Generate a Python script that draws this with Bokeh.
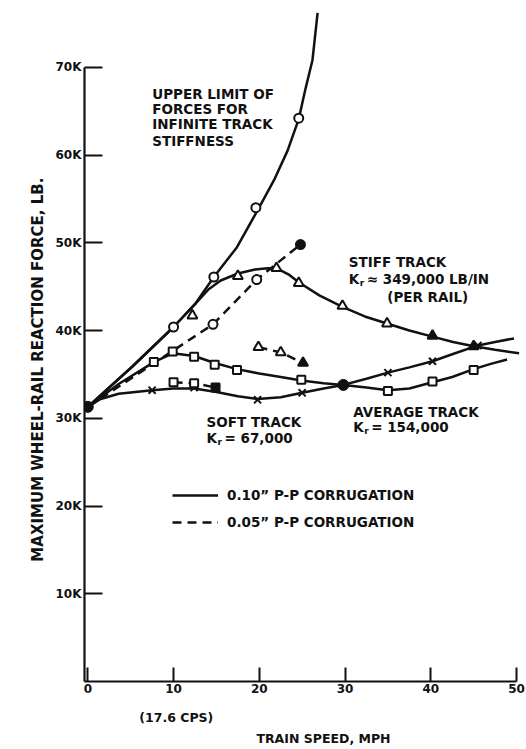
import math
from bokeh.plotting import figure
from bokeh.models import (Range1d, FixedTicker, Label, Legend, LegendItem, LinearAxis,
                          CustomJSTickFormatter)
from bokeh.embed import file_html
from bokeh.resources import INLINE

# ---- data (train speed in MPH, force in thousands of lb) ----
upper_x = [0, 5.2, 10, 12.5, 14.7, 17.4, 19.8, 21.7, 23.3, 24.6, 25.4, 26.2, 26.8]
upper_y = [31.3, 35.9, 40.4, 43.0, 46.1, 49.5, 53.7, 57.1, 60.5, 64.1, 67.6, 70.8, 76.2]
upper_mx = [10, 14.7, 19.6, 24.6]
upper_my = [40.4, 46.1, 54.0, 64.2]

stiff_x = [0, 5.2, 10, 12.5, 14.1, 15.5, 17.5, 19.5, 21.0, 22.2, 23.4, 24.6, 27, 29.7, 32.3,
           34.9, 37.5, 40.2, 42.6, 45.0, 47.5, 50.3]
stiff_y = [31.3, 35.9, 40.4, 43.0, 44.7, 45.7, 46.5, 46.95, 47.1, 47.0, 46.4, 45.5, 44.0, 42.7,
           41.6, 40.8, 40.0, 39.3, 38.7, 38.2, 37.8, 37.4]
stiff_mx = [12.2, 17.5, 22.0, 24.6, 29.7, 34.9]
stiff_my = [41.7, 46.2, 47.1, 45.4, 42.8, 40.8]
stiff_fx = [40.2, 45.0]
stiff_fy = [39.4, 38.2]

avg_x = [0, 3.6, 7.7, 9.9, 12.4, 14.8, 17.4, 20, 22.5, 24.9, 27.5, 29.8, 32.5, 35.0,
         37.5, 40.2, 42.5, 45.0, 47, 48.9]
avg_y = [31.3, 33.9, 36.4, 37.4, 37.1, 36.3, 35.6, 35.1, 34.7, 34.3, 34.0, 33.8, 33.5,
         33.2, 33.4, 34.1, 34.7, 35.6, 36.2, 36.7]
avg_mx = [7.7, 9.9, 12.4, 14.8, 17.4, 24.9, 35.0, 40.2, 45.0]
avg_my = [36.4, 37.6, 37.0, 36.1, 35.5, 34.4, 33.1, 34.2, 35.5]

soft_x = [0, 1.5, 3.6, 7.5, 10, 12.4, 15, 17.5, 19.8, 22.5, 25.0, 27.5, 29.8, 32.5,
          35.0, 37.5, 40.2, 42.5, 45.5, 47.5, 49.7]
soft_y = [31.3, 32.2, 32.8, 33.2, 33.4, 33.4, 33.0, 32.5, 32.2, 32.4, 32.9, 33.4, 33.8,
          34.5, 35.2, 35.8, 36.5, 37.3, 38.3, 38.7, 39.1]
soft_mx = [7.5, 12.4, 19.8, 25.0, 35.0, 40.2, 45.5]
soft_my = [33.2, 33.5, 32.1, 32.9, 35.2, 36.5, 38.3]

common_x = [0, 29.8]
common_y = [31.3, 33.8]

# 0.05" corrugation (dashed)
d_upper_x = [0, 14.6, 19.7, 24.8]
d_upper_y = [31.3, 40.7, 45.8, 49.8]
d_stiff_x = [19.9, 22.5, 25.1]
d_stiff_y = [38.1, 37.5, 36.3]
d_avg_x = [10.0, 12.4, 14.9]
d_avg_y = [34.1, 34.0, 33.5]

x_ticks = [0, 10, 20, 30, 40, 50]
y_ticks = [10, 20, 30, 40, 50, 60, 70]
y_tick_labels = ["10K", "20K", "30K", "40K", "50K", "60K", "70K"]

x_title = "TRAIN SPEED, MPH"
x_subtitle = "(17.6 CPS)"
y_title = "MAXIMUM WHEEL-RAIL REACTION FORCE, LB."


def lb(vals):
    return [v * 1000 for v in vals]


FONT = "DejaVu Sans"
INK = "#111111"

p = figure(width=526, height=749, output_backend="svg", toolbar_location=None,
           title=None,
           x_range=Range1d(-0.385, 50.93), y_range=Range1d(0, 76470),
           min_border_left=84, min_border_right=2, min_border_top=10,
           min_border_bottom=68)
p.outline_line_color = None
p.grid.visible = False
p.background_fill_color = "white"
p.border_fill_color = "white"

LW = 2.5
solid = dict(line_color=INK, line_width=LW)
dashed = dict(line_color=INK, line_width=LW, line_dash="9 6")

r_upper = p.line(upper_x, lb(upper_y), **solid)
p.line(stiff_x, lb(stiff_y), **solid)
p.line(avg_x, lb(avg_y), **solid)
p.line(soft_x, lb(soft_y), **solid)
r_dash = p.line(d_upper_x, lb(d_upper_y), **dashed)
p.line(d_stiff_x, lb(d_stiff_y), **dashed)
p.line(d_avg_x, lb(d_avg_y), **dashed)

mk = dict(line_color=INK, line_width=2, fill_color="white")
p.scatter(upper_mx, lb(upper_my), marker="circle", size=9, **mk)
p.scatter(stiff_mx, lb(stiff_my), marker="triangle", size=10, **mk)
p.scatter(stiff_fx, lb(stiff_fy), marker="triangle", size=10, line_color=INK,
          line_width=2, fill_color=INK)
p.scatter(avg_mx, lb(avg_my), marker="square", size=8, **mk)
p.scatter(soft_mx, lb(soft_my), marker="x", size=10, line_color=INK, line_width=2)
p.scatter(common_x, lb(common_y), marker="circle", size=11, line_color=INK,
          fill_color=INK)

p.scatter(d_upper_x[1:-1], lb(d_upper_y[1:-1]), marker="circle", size=9, **mk)
p.scatter(d_upper_x[-1:], lb(d_upper_y[-1:]), marker="circle", size=9,
          line_color=INK, line_width=2, fill_color=INK)
p.scatter(d_stiff_x[:-1], lb(d_stiff_y[:-1]), marker="triangle", size=10, **mk)
p.scatter(d_stiff_x[-1:], lb(d_stiff_y[-1:]), marker="triangle", size=10,
          line_color=INK, line_width=2, fill_color=INK)
p.scatter(d_avg_x[:-1], lb(d_avg_y[:-1]), marker="square", size=8, **mk)
p.scatter(d_avg_x[-1:], lb(d_avg_y[-1:]), marker="square", size=8,
          line_color=INK, line_width=2, fill_color=INK)

# ---- axes ----
xa = p.xaxis[0]
ya = p.yaxis[0]
xa.ticker = FixedTicker(ticks=x_ticks)
ya.ticker = FixedTicker(ticks=lb(y_ticks))
ya.major_label_overrides = {t * 1000: s for t, s in zip(y_ticks, y_tick_labels)}
xa.bounds = (-0.385, 50)
ya.bounds = (0, 70000)
for ax in (xa, ya):
    ax.axis_line_color = INK
    ax.axis_line_width = 2.2
    ax.major_tick_line_color = INK
    ax.major_tick_line_width = 2
    ax.minor_tick_line_color = None
    ax.major_tick_out = 0
    ax.major_label_text_font = FONT
    ax.major_label_text_font_style = "bold"
    ax.major_label_text_font_size = "12px"
    ax.major_label_text_color = INK
ya.major_tick_in = 18
xa.major_tick_in = 14
ya.major_label_standoff = 3
xa.major_label_standoff = 2


def text_axis(tick, text, side, standoff, size, orientation="horizontal"):
    ax = LinearAxis(ticker=FixedTicker(ticks=[tick]),
                    formatter=CustomJSTickFormatter(code='return "%s";' % text),
                    axis_line_color=None, major_tick_line_color=None,
                    minor_tick_line_color=None, major_tick_in=0, major_tick_out=0,
                    major_label_standoff=standoff,
                    major_label_orientation=orientation,
                    major_label_text_font=FONT, major_label_text_font_style="bold",
                    major_label_text_font_size=size, major_label_text_color=INK)
    p.add_layout(ax, side)
    return ax


text_axis(10.32, x_subtitle, "below", 14, "12.5px")
text_axis(27.49, x_title, "below", 3, "12.5px")
text_axis(35540, y_title, "left", 5, "15px", orientation="vertical")


def lab(x, y, text, size="13.5px", xo=0, yo=0):
    p.add_layout(Label(x=x, y=y * 1000, text=text, x_offset=xo, y_offset=yo,
                       text_font=FONT, text_font_style="bold",
                       text_font_size=size, text_color=INK,
                       text_baseline="alphabetic", text_align="left"))


def kr(x, y, rest):
    lab(x, y, "K")
    lab(x, y, "r", size="9px", xo=11, yo=-4)
    lab(x, y, rest, xo=18)


lab(7.51, 66.97, "UPPER LIMIT OF")
lab(7.51, 65.26, "FORCES FOR")
lab(7.51, 63.55, "INFINITE TRACK")
lab(7.51, 61.65, "STIFFNESS")

lab(30.44, 47.77, "STIFF TRACK")
kr(30.44, 45.88, "\u2248 349,000 LB/IN")
lab(34.92, 43.86, "(PER RAIL)")

lab(13.85, 29.53, "SOFT TRACK")
kr(13.85, 27.8, "= 67,000")

lab(30.95, 30.67, "AVERAGE TRACK")
kr(30.95, 28.96, "= 154,000")

legend = Legend(items=[LegendItem(label="0.10\u201d P-P CORRUGATION", renderers=[r_upper]),
                       LegendItem(label="0.05\u201d P-P CORRUGATION", renderers=[r_dash])],
                location=(88, 149), orientation="vertical",
                border_line_color=None, background_fill_alpha=0,
                glyph_width=46, glyph_height=20, label_height=20,
                spacing=7, padding=0, margin=0, label_standoff=9,
                label_text_font=FONT, label_text_font_style="bold",
                label_text_font_size="13.5px", label_text_color=INK)
p.add_layout(legend)

open("out.html", "w").write(file_html(p, INLINE))
